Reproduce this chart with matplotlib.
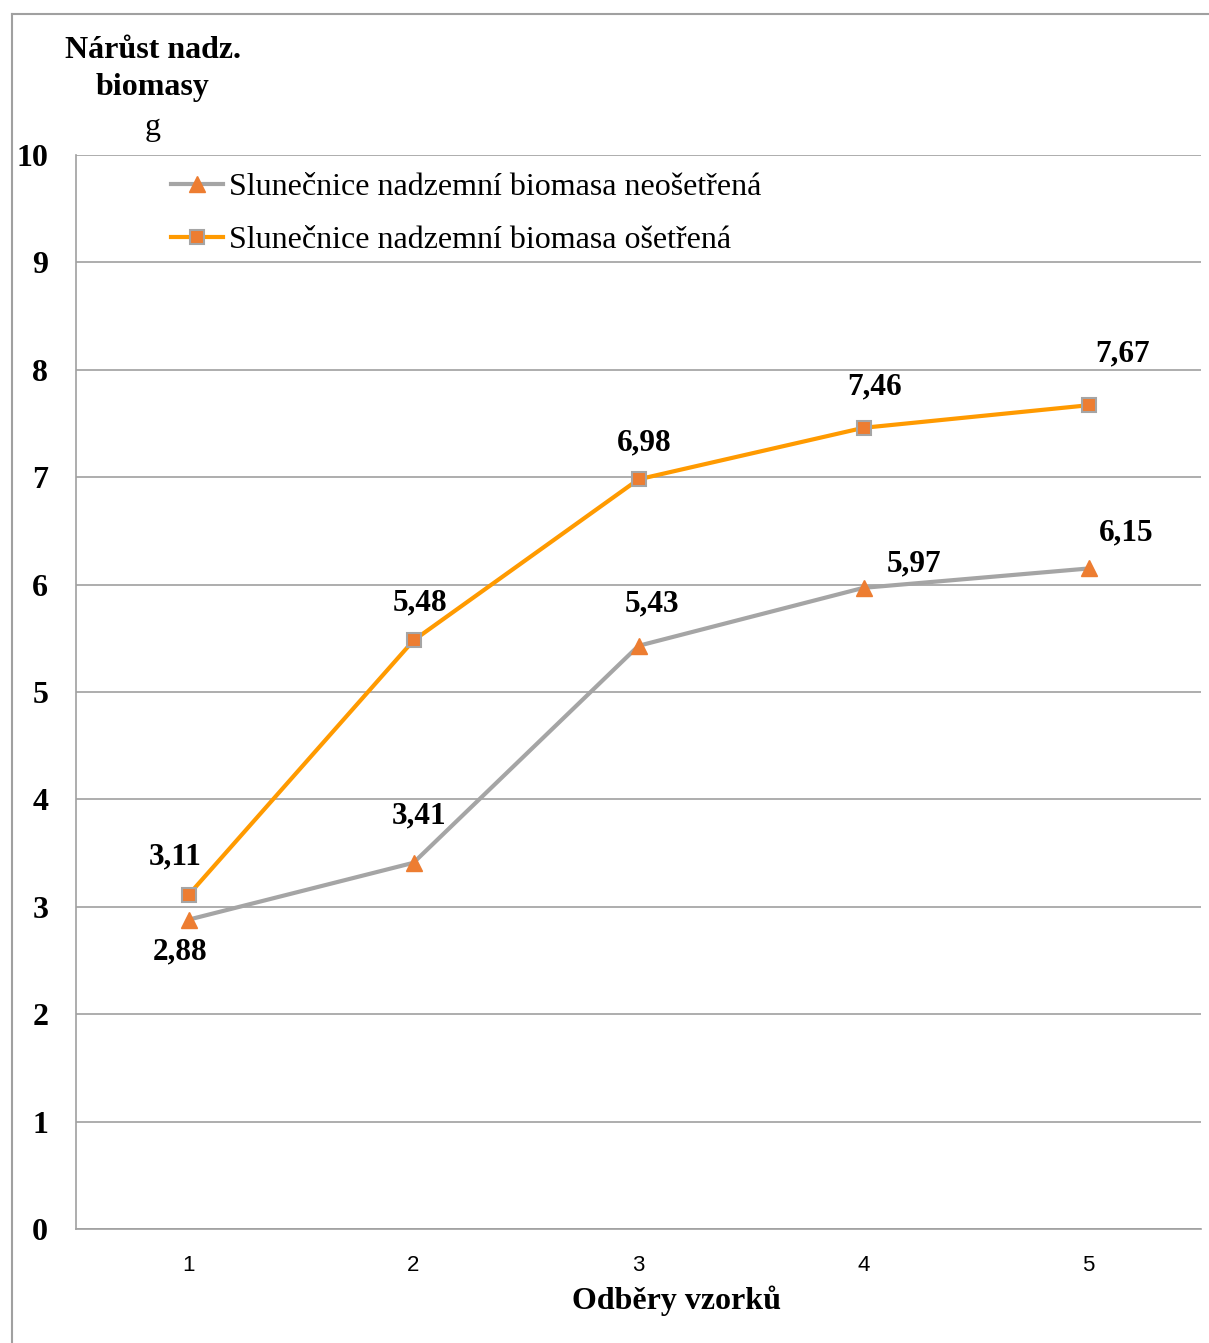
import matplotlib.pyplot as plt
from matplotlib.lines import Line2D

odbery = [1, 2, 3, 4, 5]
neosetrena = [2.88, 3.41, 5.43, 5.97, 6.15]
osetrena = [3.11, 5.48, 6.98, 7.46, 7.67]
y_ticks = list(range(0, 11))

# label offsets in pixels (dx, dy)
offs_neo = [(-8, -32), (6, 47), (14, 42), (50, 24), (38, 36)]
offs_ose = [(-13, 38), (6, 38), (6, 36), (11, 41), (34, 51)]

serif = ['Liberation Serif', 'DejaVu Serif']
sans = ['Liberation Sans', 'DejaVu Sans']

fig = plt.figure(figsize=(12.09, 13.43), dpi=100)
ax = fig.add_axes([76 / 1209, 1 - 1229 / 1343, 1125 / 1209, (1229 - 155) / 1343])

ax.plot(odbery, neosetrena, color='#A5A5A5', lw=3, marker='^', markersize=11,
        markerfacecolor='#ED7D31', markeredgecolor='#ED7D31',
        label='Slunečnice nadzemní biomasa neošetřená', zorder=3)
ax.plot(odbery, osetrena, color='#FF9A00', lw=3, marker='s', markersize=10,
        markerfacecolor='#ED7D31', markeredgecolor='#A5A5A5', markeredgewidth=1.5,
        label='Slunečnice nadzemní biomasa ošetřená', zorder=4)

for x, y, (dx, dy) in zip(odbery, neosetrena, offs_neo):
    ax.annotate(f'{y:.2f}'.replace('.', ','), (x, y), xytext=(dx, dy),
                textcoords='offset pixels', ha='center', va='center',
                fontsize=22.5, fontweight='bold', family=serif)
for x, y, (dx, dy) in zip(odbery, osetrena, offs_ose):
    ax.annotate(f'{y:.2f}'.replace('.', ','), (x, y), xytext=(dx, dy),
                textcoords='offset pixels', ha='center', va='center',
                fontsize=22.5, fontweight='bold', family=serif)

ax.set_xlim(0.5, 5.5)
ax.set_ylim(0, 10)
ax.set_yticks(y_ticks)
ax.set_xticks(odbery)
ax.set_yticklabels([str(t) for t in y_ticks], fontsize=23, fontweight='bold', family=serif)
ax.set_xticklabels([str(t) for t in odbery], fontsize=16, family=sans)
ax.tick_params(length=0, axis='y', pad=20)
ax.tick_params(length=0, axis='x', pad=19)
ax.grid(axis='y', color='#A0A0A0', lw=1.2)
ax.set_axisbelow(True)
for s in ['top', 'right']:
    ax.spines[s].set_visible(False)
for s in ['left', 'bottom']:
    ax.spines[s].set_color('#A0A0A0')
    ax.spines[s].set_linewidth(1.2)

ax.set_xlabel('Odběry vzorků', fontsize=23, fontweight='bold', family=serif)
ax.xaxis.set_label_coords(677 / 1209, 1 - 1301 / 1343, transform=fig.transFigure)
ax.xaxis.label.set_va('center')

fig.text(153 / 1209, 1 - 69 / 1343, 'Nárůst nadz.\nbiomasy', ha='center', va='center',
         fontsize=23, fontweight='bold', family=serif, linespacing=1.32)
fig.text(153 / 1209, 1 - 127 / 1343, 'g', ha='center', va='center',
         fontsize=23, family=serif)

ax.legend(loc='upper left', bbox_to_anchor=(171 / 1209, 1 - 173 / 1343),
          bbox_transform=fig.transFigure, frameon=False,
          prop={'family': serif, 'size': 23}, handlelength=1.63,
          handletextpad=0.2, labelspacing=0.74, borderaxespad=0, borderpad=0)

# outer frame
fig.add_artist(Line2D([12 / 1209, 12 / 1209], [0, 1 - 14 / 1343], color='#A0A0A0', lw=1.5,
                      transform=fig.transFigure))
fig.add_artist(Line2D([12 / 1209, 1], [1 - 14 / 1343, 1 - 14 / 1343], color='#A0A0A0', lw=1.5,
                      transform=fig.transFigure))

fig.savefig('out.png', dpi=100)
